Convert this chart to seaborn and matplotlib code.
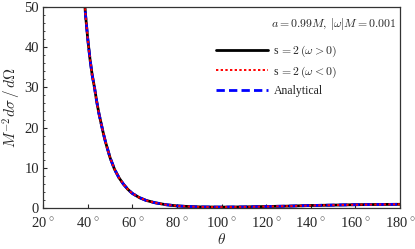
import numpy as np
import pandas as pd
import matplotlib
matplotlib.use("Agg")
import matplotlib.pyplot as plt
import seaborn as sns
from matplotlib.ticker import MultipleLocator

# values
theta = [38.5, 39, 40, 41, 42, 43, 44, 45, 46, 47, 48, 50, 52, 54, 56, 58, 60,
         63, 66, 70, 75, 80, 85, 90, 100, 110, 120, 130, 140, 150, 160, 170, 180]
sigma = [52, 48, 42, 37, 33, 30, 26.5, 23.5, 21, 18.5, 16.3, 12.5, 9.6, 7.5, 5.9, 4.6, 3.6,
         2.6, 1.9, 1.3, 0.8, 0.5, 0.35, 0.25, 0.2, 0.25, 0.35, 0.45, 0.6, 0.7, 0.8, 0.85, 0.9]
labels = [r"s$\,=2\,(\omega>0)$", r"s$\,=2\,(\omega<0)$", "Analytical"]

sns.set_style("white")
plt.rcParams["font.family"] = ["Liberation Serif", "DejaVu Serif"]
plt.rcParams["mathtext.fontset"] = "cm"

df = pd.DataFrame({"theta": theta, "sigma": sigma})

fig, ax = plt.subplots(figsize=(4.15, 2.49), dpi=100)
sns.lineplot(data=df, x="theta", y="sigma", color="black", lw=2, ax=ax, label=labels[0])
sns.lineplot(data=df, x="theta", y="sigma", color="blue", lw=2, ax=ax,
             label=labels[2], linestyle=(0, (3, 1.5)))
sns.lineplot(data=df, x="theta", y="sigma", color="red", lw=1.4, ax=ax,
             label=labels[1], linestyle=(0, (1.2, 1.2)))

ax.set_xlim(20, 180)
ax.set_ylim(0, 50)
ax.set_xticks(range(20, 181, 20))
ax.set_xticklabels([f"{t}$^\\circ$" for t in range(20, 181, 20)])
ax.yaxis.set_minor_locator(MultipleLocator(2))
ax.tick_params(axis="both", which="major", direction="in", length=3, width=0.8,
               labelsize=10.5, bottom=True, left=True)
ax.tick_params(axis="x", pad=6)
ax.tick_params(axis="y", pad=3)
ax.tick_params(axis="y", which="minor", direction="in", length=1.5, width=0.6, left=True)
for s in ax.spines.values():
    s.set_color("#333333")
    s.set_linewidth(0.9)

ax.set_xlabel(r"$\theta$", fontsize=11, labelpad=1)
ax.set_ylabel(r"$M^{-2}d\sigma\,/\,d\Omega$", fontsize=11, labelpad=1)

ax.text(0.99, 0.955, r"$a=0.99M,\, |\omega|M=0.001$", transform=ax.transAxes,
        ha="right", va="top", fontsize=8.5)

h, l = ax.get_legend_handles_labels()
order = [0, 2, 1]
ax.legend([h[i] for i in order], [l[i] for i in order], loc="upper left",
          bbox_to_anchor=(0.47, 0.84), frameon=False, fontsize=8.5, handlelength=4.4,
          handletextpad=0.5, labelspacing=0.45, borderaxespad=0)

plt.subplots_adjust(left=0.104, right=0.964, top=0.972, bottom=0.165)
plt.savefig("out.png", dpi=100)
